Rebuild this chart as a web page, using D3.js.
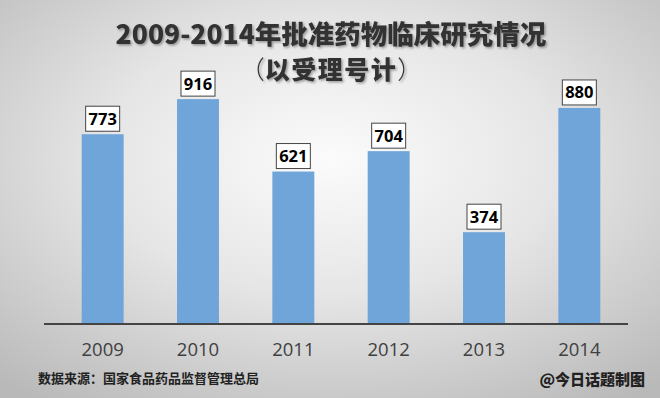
<!DOCTYPE html>
<html>
<head>
<meta charset="utf-8">
<script src="https://cdn.jsdelivr.net/npm/d3@7"></script>
<style>
  html, body { margin: 0; padding: 0; }
  svg { display: block; }
</style>
</head>
<body>
<svg id="chart" width="660" height="398"></svg>
<script>
const years = ['2009', '2010', '2011', '2012', '2013', '2014'];
const counts = [773, 916, 621, 704, 374, 880];
const title = '2009-2014年批准药物临床研究情况';
const subtitle = '以受理号计';
const source = '数据来源：国家食品药品监督管理总局';
const credit = '@今日话题制图';

const svg = d3.select('#chart');
const W = 660, H = 398;

// background: light centre fading to grey edges
const defs = svg.append('defs');
const grad = defs.append('radialGradient').attr('id', 'bg')
  .attr('cx', '50%').attr('cy', '40%').attr('r', '75%');
grad.append('stop').attr('offset', '0%').attr('stop-color', '#fbfbfb');
grad.append('stop').attr('offset', '45%').attr('stop-color', '#e6e6e6');
grad.append('stop').attr('offset', '100%').attr('stop-color', '#b9b9b9');
svg.append('rect').attr('width', W).attr('height', H).attr('fill', 'url(#bg)');

const shadow = defs.append('filter').attr('id', 'shadow')
  .attr('x', '-5%').attr('y', '-20%').attr('width', '110%').attr('height', '140%');
shadow.append('feDropShadow').attr('dx', 1.5).attr('dy', 1.5)
  .attr('stdDeviation', 1).attr('flood-color', '#000').attr('flood-opacity', 0.35);

const x = d3.scaleBand().domain(years).range([55, 627]).paddingInner(0.56).paddingOuter(0.28);
const y = d3.scaleLinear().domain([0, 1000]).range([324, 78.5]);

svg.append('text')
  .attr('x', 331).attr('y', 44)
  .attr('text-anchor', 'middle')
  .attr('font-family', '"Noto Sans CJK SC", sans-serif')
  .attr('font-weight', 900).attr('font-size', 26.5)
  .attr('fill', '#333').attr('filter', 'url(#shadow)')
  .text(title);

const sub = svg.append('text')
  .attr('x', 331).attr('y', 79)
  .attr('text-anchor', 'middle')
  .attr('font-family', '"Noto Sans CJK SC", sans-serif')
  .attr('font-size', 25)
  .attr('fill', '#333').attr('filter', 'url(#shadow)');
sub.append('tspan').attr('font-weight', 300).text('（');
sub.append('tspan').attr('font-weight', 900).attr('letter-spacing', 1.5).text(subtitle);
sub.append('tspan').attr('font-weight', 300).text('）');

svg.append('g').selectAll('rect')
  .data(counts)
  .enter()
  .append('rect')
  .attr('x', (d, i) => x(years[i]))
  .attr('y', d => y(d))
  .attr('width', x.bandwidth())
  .attr('height', d => y(0) - y(d))
  .attr('fill', '#6fa5d8');

const labels = svg.append('g').selectAll('g')
  .data(counts)
  .enter()
  .append('g')
  .attr('transform', (d, i) => `translate(${x(years[i]) + x.bandwidth() / 2},${y(d) - 3})`);
labels.append('rect')
  .attr('x', -17).attr('y', -25).attr('width', 34).attr('height', 25)
  .attr('fill', '#fff').attr('stroke', '#444').attr('stroke-width', 1);
labels.append('text')
  .attr('y', -6.5)
  .attr('text-anchor', 'middle')
  .attr('font-family', '"Open Sans", sans-serif')
  .attr('font-weight', 700).attr('font-size', 16.5)
  .attr('fill', '#000')
  .text(d => d);

const xAxis = d3.axisBottom(x).tickSize(0);
const gx = svg.append('g').attr('transform', 'translate(0,324)').call(xAxis);
gx.select('.domain').attr('d', 'M44,0H628').attr('stroke', '#444').attr('stroke-width', 2);
gx.selectAll('text')
  .attr('y', 32).attr('dy', 0)
  .attr('font-family', '"Open Sans", sans-serif')
  .attr('font-size', 18.5).attr('fill', '#404040');

svg.append('text')
  .attr('x', 38).attr('y', 383)
  .attr('font-family', '"Noto Sans CJK SC", sans-serif')
  .attr('font-weight', 700).attr('font-size', 13)
  .attr('fill', '#222')
  .text(source);

svg.append('text')
  .attr('x', 645).attr('y', 385)
  .attr('text-anchor', 'end')
  .attr('font-family', '"Noto Sans CJK SC", sans-serif')
  .attr('font-weight', 900).attr('font-size', 15)
  .attr('fill', '#222')
  .text(credit);
</script>
</body>
</html>
